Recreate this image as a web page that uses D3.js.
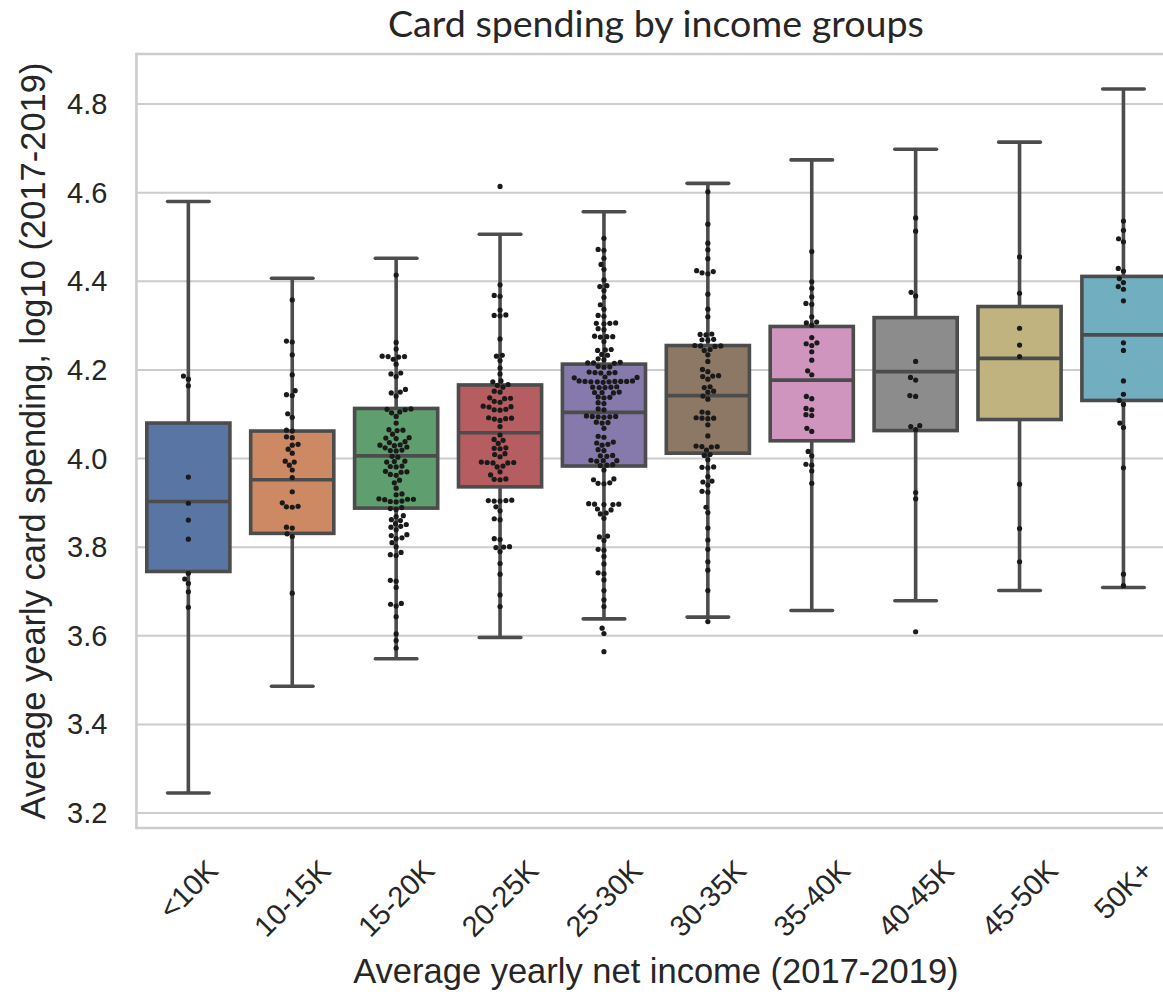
<!DOCTYPE html>
<html>
<head>
<meta charset="utf-8">
<script src="https://cdn.jsdelivr.net/npm/d3@7"></script>
<style>
  html, body { margin: 0; padding: 0; background: #ffffff; }
  svg { display: block; }
</style>
</head>
<body>
<svg id="chart" width="1163" height="997"></svg>
<script>
// ---------------- DATA ----------------
const categories = ["<10K", "10-15K", "15-20K", "20-25K", "25-30K", "30-35K", "35-40K", "40-45K", "45-50K", "50K+"];
const whiskerLow  = [3.244, 3.485, 3.547, 3.595, 3.637, 3.641, 3.656, 3.678, 3.701, 3.708];
const q1          = [3.744, 3.830, 3.887, 3.935, 3.982, 4.011, 4.039, 4.062, 4.087, 4.130];
const median      = [3.902, 3.951, 4.005, 4.057, 4.103, 4.141, 4.176, 4.195, 4.225, 4.278];
const q3          = [4.079, 4.061, 4.112, 4.165, 4.212, 4.254, 4.297, 4.317, 4.342, 4.410];
const whiskerHigh = [4.579, 4.406, 4.451, 4.505, 4.556, 4.620, 4.673, 4.697, 4.713, 4.833];
const yTickValues = [3.2, 3.4, 3.6, 3.8, 4.0, 4.2, 4.4, 4.6, 4.8];

const pointsLt10K = [4.185, 4.178, 4.163, 3.957, 3.898, 3.860, 3.817, 3.740, 3.727, 3.717, 3.698, 3.663];
const points10to15K = [4.357, 4.264, 4.262, 4.233, 4.188, 4.152, 4.143, 4.141, 4.100, 4.092, 4.063, 4.061,
  4.048, 4.046, 4.031, 4.029, 4.020, 4.011, 3.993, 3.991, 3.984, 3.973, 3.956, 3.924, 3.899, 3.891, 3.890,
  3.889, 3.844, 3.842, 3.829, 3.823, 3.695];
const points15to20K = [4.413, 4.261, 4.246, 4.230, 4.229, 4.229, 4.228, 4.223, 4.212, 4.192, 4.190, 4.184,
  4.155, 4.149, 4.147, 4.140, 4.111, 4.110, 4.109, 4.104, 4.102, 4.094, 4.079, 4.064, 4.063, 4.062, 4.054,
  4.046, 4.045, 4.044, 4.037, 4.035, 4.030, 4.029, 4.028, 4.025, 4.023, 4.018, 4.017, 4.016, 4.004, 4.002,
  3.993, 3.992, 3.991, 3.982, 3.981, 3.980, 3.970, 3.969, 3.968, 3.963, 3.961, 3.950, 3.944, 3.932,
  3.919, 3.917, 3.908, 3.907, 3.907, 3.906, 3.903, 3.902, 3.901, 3.888, 3.886, 3.884,
  3.870, 3.868, 3.861, 3.859, 3.852, 3.850, 3.846, 3.844, 3.838, 3.827, 3.825, 3.820, 3.818, 3.809,
  3.800, 3.787, 3.782, 3.780, 3.724, 3.722, 3.708, 3.672, 3.670, 3.666, 3.642, 3.603, 3.588, 3.571];
const points20to25K = [4.613, 4.391, 4.367, 4.365, 4.334, 4.323, 4.322, 4.321, 4.269,
  4.232, 4.230, 4.220, 4.203, 4.190, 4.174, 4.172, 4.166, 4.164, 4.160, 4.151, 4.149,
  4.136, 4.135, 4.134, 4.128, 4.126, 4.117, 4.116, 4.115, 4.110, 4.109, 4.108,
  4.091, 4.090, 4.089, 4.088, 4.085, 4.071, 4.052, 4.042, 4.040, 4.033,
  4.023, 4.022, 4.021, 4.010, 4.008, 4.003,
  3.991, 3.990, 3.990, 3.989, 3.989, 3.982, 3.980, 3.969, 3.962, 3.953, 3.952, 3.951,
  3.905, 3.904, 3.904, 3.903, 3.903, 3.890, 3.881, 3.863, 3.861,
  3.818, 3.816, 3.800, 3.799, 3.798, 3.789, 3.762, 3.738, 3.691, 3.665];
const points25to30K = [4.496, 4.471, 4.469, 4.451, 4.437, 4.426, 4.402, 4.389, 4.387, 4.378, 4.363, 4.346, 4.336,
  4.322, 4.320, 4.305, 4.304, 4.304, 4.303, 4.292, 4.290, 4.275, 4.274, 4.274, 4.273, 4.263,
  4.245, 4.244, 4.243, 4.234, 4.232, 4.224, 4.222, 4.216, 4.215, 4.215, 4.214, 4.207, 4.206, 4.205,
  4.194, 4.193, 4.193, 4.192, 4.192, 4.183, 4.182, 4.181,
  4.174, 4.174, 4.173, 4.173, 4.173, 4.173, 4.172, 4.172, 4.172, 4.171,
  4.161, 4.160, 4.160, 4.159, 4.159, 4.149, 4.148, 4.148, 4.147, 4.138, 4.137, 4.136,
  4.125, 4.123, 4.111, 4.109, 4.095, 4.094, 4.094, 4.093, 4.093, 4.092, 4.081, 4.080, 4.079, 4.067,
  4.049, 4.047, 4.036, 4.034, 4.031, 4.029, 4.019, 4.017, 4.006, 4.005, 4.004,
  3.995, 3.994, 3.994, 3.993, 3.985, 3.984, 3.983, 3.973, 3.953, 3.951, 3.944, 3.943, 3.942,
  3.897, 3.896, 3.896, 3.895, 3.895, 3.885, 3.883, 3.876, 3.874, 3.864,
  3.824, 3.822, 3.814, 3.794, 3.792, 3.778, 3.761, 3.741, 3.739, 3.725, 3.701, 3.680, 3.665,
  3.616, 3.604, 3.563];
const points30to35K = [4.601, 4.528, 4.485, 4.470, 4.450, 4.423, 4.421, 4.418, 4.416, 4.370, 4.336, 4.319,
  4.280, 4.279, 4.278, 4.268, 4.267, 4.266, 4.254, 4.253, 4.253, 4.252, 4.245, 4.243,
  4.233, 4.218, 4.200, 4.195, 4.186, 4.185, 4.184, 4.178, 4.161, 4.159, 4.151, 4.149, 4.140, 4.133,
  4.104, 4.102, 4.091, 4.090, 4.090, 4.089, 4.075, 4.050, 4.027, 4.026, 4.026, 4.025, 4.018,
  4.008, 4.006, 3.996, 3.980, 3.979, 3.978, 3.958, 3.948, 3.946, 3.939, 3.925, 3.923,
  3.889, 3.877, 3.842, 3.815, 3.794, 3.766, 3.747, 3.701, 3.631];
const points35to40K = [4.466, 4.398, 4.383, 4.364, 4.349, 4.347, 4.319, 4.307, 4.305, 4.300, 4.272, 4.260,
  4.258, 4.254, 4.240, 4.221, 4.197, 4.188, 4.139, 4.134, 4.112, 4.109, 4.098, 4.096, 4.067, 4.060,
  4.015, 4.005, 3.986, 3.984, 3.971, 3.943];
const points40to45K = [4.542, 4.512, 4.374, 4.366, 4.218, 4.182, 4.176, 4.141, 4.139, 4.073, 4.071, 4.064,
  3.922, 3.908, 3.608];
const points45to50K = [4.454, 4.372, 4.293, 4.255, 4.229, 3.941, 3.841, 3.766];
const points50KPlus = [4.535, 4.514, 4.495, 4.488, 4.428, 4.422, 4.405, 4.396, 4.387, 4.381, 4.355, 4.260,
  4.243, 4.174, 4.144, 4.130, 4.121, 4.079, 4.069, 3.978, 3.738, 3.712];

const boxColors = ["#5875a4", "#cc8963", "#5f9e6e", "#b55d60", "#857aab",
                   "#8d7866", "#d095bf", "#8c8c8c", "#c1b37f", "#71aec0"];

const swarmData = [pointsLt10K, points10to15K, points15to20K, points20to25K, points25to30K,
                   points30to35K, points35to40K, points40to45K, points45to50K, points50KPlus];

// ---------------- LAYOUT ----------------
const plot = { left: 136.4, right: 1175.4, top: 54, bottom: 828 };
const textColor = "#262626";
const lineColor = "#4c4c4c";
const gridColor = "#cccccc";
const tickFont = "'Liberation Sans', Arial, sans-serif";

const svg = d3.select("#chart");
svg.append("rect").attr("width", 1163).attr("height", 997).attr("fill", "#ffffff");

const x = d3.scaleBand().domain(categories).range([plot.left, plot.right]).paddingInner(0).paddingOuter(0);
const y = d3.scaleLinear().domain([3.165, 4.912]).range([plot.bottom, plot.top]);
const bw = x.bandwidth();

// Grid + y axis
const yAxis = svg.append("g")
  .attr("transform", `translate(${plot.left},0)`)
  .call(d3.axisLeft(y).tickValues(yTickValues).tickFormat(d3.format(".1f"))
        .tickSize(-(plot.right - plot.left)).tickPadding(29));
yAxis.select(".domain").remove();
yAxis.selectAll(".tick line").attr("stroke", gridColor).attr("stroke-width", 2);
yAxis.selectAll(".tick text")
  .attr("fill", textColor).attr("font-family", tickFont).attr("font-size", 29)
  .attr("dy", null).attr("dominant-baseline", "central");

// Spines
const spines = svg.append("g").attr("stroke", gridColor).attr("stroke-width", 2.6);
spines.append("line").attr("x1", plot.left).attr("x2", plot.left).attr("y1", plot.top - 1.3).attr("y2", plot.bottom + 1.3);
spines.append("line").attr("x1", plot.left).attr("x2", plot.right).attr("y1", plot.top).attr("y2", plot.top);
spines.append("line").attr("x1", plot.left).attr("x2", plot.right).attr("y1", plot.bottom).attr("y2", plot.bottom);

// X axis labels (rotated)
const xAxis = svg.append("g")
  .attr("transform", `translate(0,${plot.bottom})`)
  .call(d3.axisBottom(x).tickSize(0));
xAxis.select(".domain").remove();
const xFs = 29;
xAxis.selectAll(".tick text")
  .attr("fill", textColor).attr("font-family", tickFont).attr("font-size", xFs)
  .attr("dy", null).attr("y", null)
  .attr("text-anchor", "middle").attr("dominant-baseline", "central")
  .each(function () {
    const L = this.getComputedTextLength();
    const cy = 30 + (L + 0.716 * xFs) / (2 * Math.SQRT2);
    d3.select(this).attr("transform", `translate(0,${cy}) rotate(-45)`);
  });

// Boxes
const boxes = svg.append("g");
categories.forEach((c, i) => {
  const cx = x(c) + bw / 2;
  const g = boxes.append("g").attr("stroke", lineColor).attr("stroke-width", 3.6);
  // whiskers
  g.append("line").attr("x1", cx).attr("x2", cx).attr("y1", y(q3[i])).attr("y2", y(whiskerHigh[i]));
  g.append("line").attr("x1", cx).attr("x2", cx).attr("y1", y(q1[i])).attr("y2", y(whiskerLow[i]));
  // caps
  g.append("line").attr("x1", cx - bw * 0.2).attr("x2", cx + bw * 0.2)
    .attr("y1", y(whiskerHigh[i])).attr("y2", y(whiskerHigh[i])).attr("stroke-linecap", "round");
  g.append("line").attr("x1", cx - bw * 0.2).attr("x2", cx + bw * 0.2)
    .attr("y1", y(whiskerLow[i])).attr("y2", y(whiskerLow[i])).attr("stroke-linecap", "round");
  // box
  g.append("rect").attr("x", cx - bw * 0.4).attr("width", bw * 0.8)
    .attr("y", y(q3[i])).attr("height", y(q1[i]) - y(q3[i]))
    .attr("fill", boxColors[i]);
  // median
  g.append("line").attr("x1", cx - bw * 0.4).attr("x2", cx + bw * 0.4)
    .attr("y1", y(median[i])).attr("y2", y(median[i]));
});

// Swarm (beeswarm placement like seaborn)
function beeswarm(vals, cx, d) {
  const pts = vals.map(v => ({ v, y: y(v), x: cx })).sort((a, b) => a.v - b.v);
  const placed = [];
  for (const p of pts) {
    const nb = placed.filter(q => Math.abs(q.y - p.y) < d);
    const cands = [cx];
    let leftFirst = true;
    for (const q of nb) {
      const dy = p.y - q.y;
      const dx = Math.sqrt(Math.max(d * d - dy * dy, 0)) * 1.05;
      if (leftFirst) cands.push(q.x - dx, q.x + dx); else cands.push(q.x + dx, q.x - dx);
      leftFirst = !leftFirst;
    }
    const order = cands.map((c, i) => ({ c, i }))
      .sort((a, b) => (Math.abs(a.c - cx) - Math.abs(b.c - cx)) || (a.i - b.i));
    let chosen = cx;
    for (const { c } of order) {
      let ok = true;
      for (const q of nb) {
        const ddx = c - q.x, ddy = p.y - q.y;
        if (ddx * ddx + ddy * ddy < d * d - 1e-6) { ok = false; break; }
      }
      if (ok) { chosen = c; break; }
    }
    p.x = chosen;
    placed.push(p);
  }
  return placed;
}

const dots = svg.append("g").attr("fill", "#1a1a1a");
categories.forEach((c, i) => {
  const cx = x(c) + bw / 2;
  const pts = beeswarm(swarmData[i], cx, 5.6);
  dots.selectAll(null).data(pts).enter().append("circle")
    .attr("cx", d => d.x).attr("cy", d => d.y).attr("r", 2.6);
});

// Titles
const title = svg.append("text")
  .attr("x", (plot.left + plot.right) / 2).attr("y", 37)
  .attr("text-anchor", "middle").attr("fill", textColor)
  .attr("font-family", "Lato, 'Open Sans', sans-serif").attr("font-size", 40)
  .text("Card spending by income groups");
const tw = title.node().getComputedTextLength();
title.attr("font-size", 40 * 536 / tw);

svg.append("text")
  .attr("x", (plot.left + plot.right) / 2).attr("y", 983)
  .attr("text-anchor", "middle").attr("fill", textColor)
  .attr("font-family", tickFont).attr("font-size", 34.5)
  .text("Average yearly net income (2017-2019)");

svg.append("text")
  .attr("transform", `translate(45,${(plot.top + plot.bottom) / 2}) rotate(-90)`)
  .attr("text-anchor", "middle").attr("fill", textColor)
  .attr("font-family", tickFont).attr("font-size", 34.5)
  .text("Average yearly card spending, log10 (2017-2019)");
</script>
</body>
</html>
